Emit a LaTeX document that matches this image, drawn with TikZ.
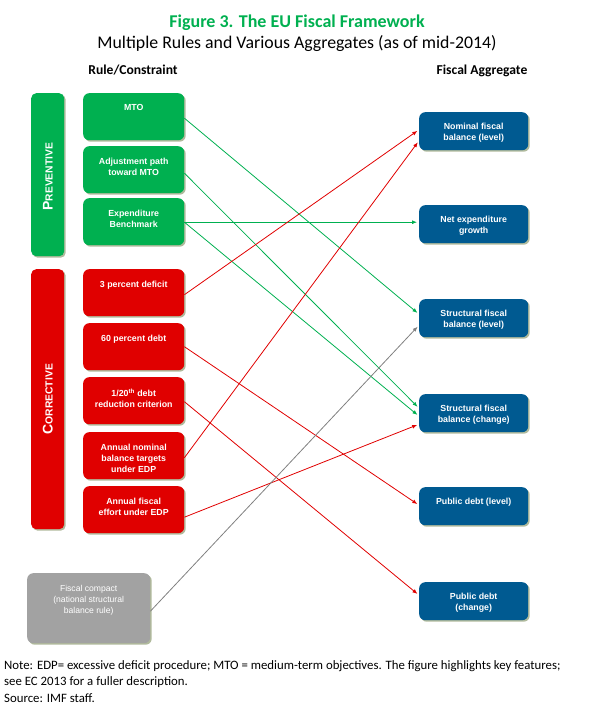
\documentclass[tikz,border=0pt]{standalone}
\usepackage{fontspec}
\setmainfont{Carlito}
\newfontfamily\arialfont{Liberation Sans}
\usetikzlibrary{positioning,shadows,arrows.meta}

\definecolor{figgreen}{RGB}{0,176,80}
\definecolor{figred}{RGB}{224,0,0}
\definecolor{figblue}{RGB}{0,90,145}
\definecolor{figgray}{RGB}{162,162,162}
\definecolor{linkgray}{RGB}{128,128,128}
\definecolor{figshadow}{RGB}{176,186,156}

\tikzset{
    box/.style={rounded corners=6pt, anchor=north west, inner sep=0pt,
        drop shadow={shadow xshift=1.5pt, shadow yshift=-1.5pt, fill=figshadow, opacity=1}},
    rulebox/.style={box, minimum width=101pt, minimum height=47pt},
    aggbox/.style={box, fill=figblue, minimum width=109pt, minimum height=38pt},
    bar/.style={box, rounded corners=5pt, minimum width=33pt},
    boxtext/.style={inner sep=0pt, align=center, text=white,
        font=\arialfont\bfseries\fontsize{8.8}{11}\selectfont},
    bartext/.style={rotate=90, inner sep=0pt, text=white, font=\arialfont\bfseries},
    link/.style={line width=0.8pt, -{Latex[length=5pt,width=4pt]}, shorten >=2pt}
}

\begin{document}
\begin{tikzpicture}[x=1pt, y=-1pt]
    \useasboundingbox (0,0) rectangle (590,718);

    % titles
    \node[anchor=base, text=figgreen, font=\bfseries\fontsize{18}{20}\selectfont] (title) at (297,27) {Figure 3. The EU Fiscal Framework};
    \node[anchor=base, font=\fontsize{17.8}{20}\selectfont] (subtitle) at (297,48) {Multiple Rules and Various Aggregates (as of mid-2014)};
    \node[anchor=base, font=\bfseries\fontsize{13.6}{15}\selectfont] (rulehead) at (133,74) {Rule/Constraint};
    \node[anchor=base, font=\bfseries\fontsize{13.6}{15}\selectfont] (agghead) at (482,74) {Fiscal Aggregate};

    % side bars
    \node[bar, fill=figgreen, minimum height=163pt] (prev) at (31,93) {};
    \node[bartext] at ([yshift=-2pt]prev.center) {{\fontsize{14}{14}\selectfont P}{\fontsize{10.3}{11}\selectfont REVENTIVE}};
    \node[bar, fill=figred, minimum height=260pt] (corr) at (31,269) {};
    \node[bartext] at (corr.center) {{\fontsize{14}{14}\selectfont C}{\fontsize{10.3}{11}\selectfont ORRECTIVE}};

    % rules
    \node[rulebox, fill=figgreen] (mto) at (83,93) {};
    \node[boxtext, below=11.5pt of mto.north] {MTO};
    \node[rulebox, fill=figgreen] (adjpath) at (83,146) {};
    \node[boxtext, below=11.5pt of adjpath.north] {Adjustment path\\toward MTO};
    \node[rulebox, fill=figgreen] (expbench) at (83,198) {};
    \node[boxtext, below=11.5pt of expbench.north] {Expenditure\\Benchmark};
    \node[rulebox, fill=figred] (deficit) at (83,269) {};
    \node[boxtext, below=11.5pt of deficit.north] {3 percent deficit};
    \node[rulebox, fill=figred] (debtsixty) at (83,323) {};
    \node[boxtext, below=11.5pt of debtsixty.north] {60 percent debt};
    \node[rulebox, fill=figred] (debtrule) at (83,377) {};
    \node[boxtext, below=11.5pt of debtrule.north] {1/20\textsuperscript{th} debt\\reduction criterion};
    \node[rulebox, fill=figred] (nomtarget) at (83,432) {};
    \node[boxtext, below=11.5pt of nomtarget.north] {Annual nominal\\balance targets\\under EDP};
    \node[rulebox, fill=figred] (effort) at (83,486) {};
    \node[boxtext, below=11.5pt of effort.north] {Annual fiscal\\effort under EDP};
    \node[rulebox, fill=figgray, minimum width=123pt, minimum height=70pt] (compact) at (27,573) {};
    \node[boxtext, font=\arialfont\fontsize{8.6}{11}\selectfont, below=12pt of compact.north] {Fiscal compact\\(national structural\\balance rule)};

    % aggregates
    \node[aggbox] (nombal) at (419,112) {};
    \node[boxtext, below=11pt of nombal.north] {Nominal fiscal\\balance (level)};
    \node[aggbox] (netexp) at (419,205) {};
    \node[boxtext, below=11pt of netexp.north] {Net expenditure\\growth};
    \node[aggbox] (strlevel) at (419,299) {};
    \node[boxtext, below=11pt of strlevel.north] {Structural fiscal\\balance (level)};
    \node[aggbox] (strchange) at (419,394) {};
    \node[boxtext, below=11pt of strchange.north] {Structural fiscal\\balance (change)};
    \node[aggbox] (debtlevel) at (419,487) {};
    \node[boxtext, below=11pt of debtlevel.north] {Public debt (level)};
    \node[aggbox] (debtchange) at (419,582) {};
    \node[boxtext, below=11pt of debtchange.north] {Public debt\\(change)};

    % links
    \draw[link, figgreen] ([yshift=-1.5pt]mto.east) -- ([yshift=4pt]strlevel.west);
    \draw[link, figgreen] ([yshift=-3.5pt]adjpath.east) -- ([yshift=5pt]strchange.west);
    \draw[link, figgreen] ([yshift=-0.5pt]expbench.east) -- ([yshift=2pt]netexp.west);
    \draw[link, figgreen] ([yshift=-0.5pt]expbench.east) -- ([yshift=-3pt]strchange.west);
    \draw[link, figred] ([yshift=-2pt]deficit.east) -- ([yshift=1.5pt]nombal.west);
    \draw[link, figred] ([yshift=-2pt]nomtarget.east) -- ([yshift=-9.5pt]nombal.west);
    \draw[link, figred] (debtsixty.east) -- ([yshift=1pt]debtlevel.west);
    \draw[link, figred] ([yshift=-1pt]debtrule.east) -- ([yshift=6pt]debtchange.west);
    \draw[link, figred] ([yshift=-7.5pt]effort.east) -- ([yshift=-11pt]strchange.west);
    \draw[link, linkgray] ([yshift=-3pt]compact.east) -- ([yshift=-7pt]strlevel.west);

    % note
    \node[anchor=north west, align=left, inner sep=0pt, font=\fontsize{12.8}{16.5}\selectfont] (note) at (4,660)
        {Note: EDP= excessive deficit procedure; MTO = medium-term objectives. The figure highlights key features;\\
         see EC 2013 for a fuller description.\\
         Source: IMF staff.};
\end{tikzpicture}
\end{document}
